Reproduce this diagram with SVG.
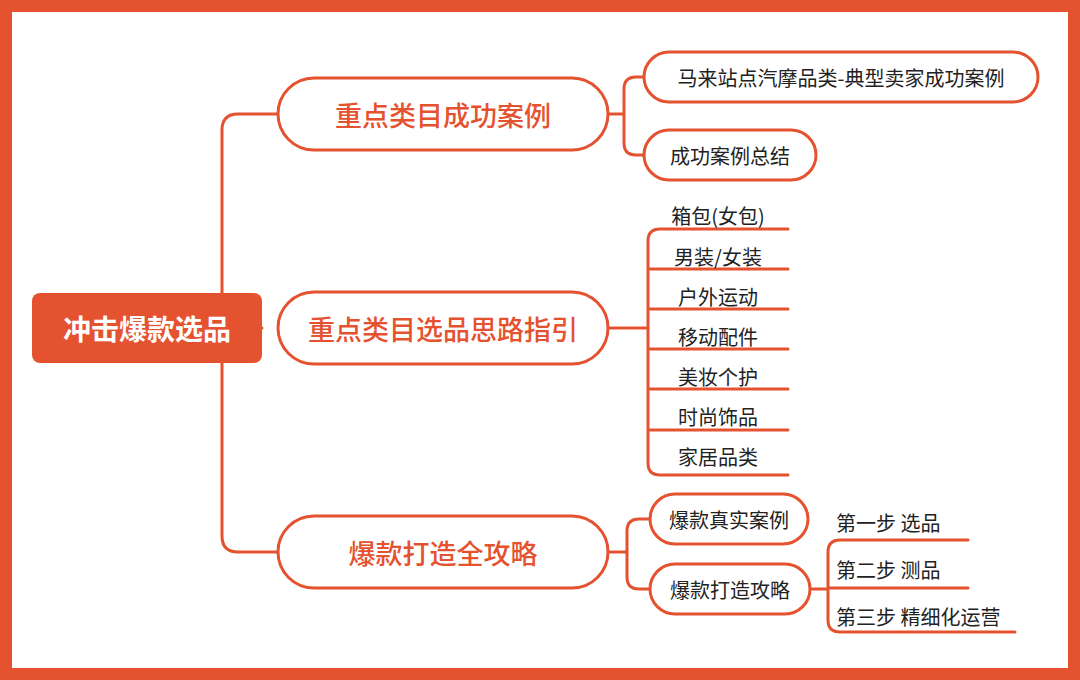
<svg xmlns="http://www.w3.org/2000/svg" width="1080" height="680" viewBox="0 0 1080 680">
<style>
.l{fill:none;stroke:#E4522F;stroke-width:3;stroke-linecap:round}
.p{fill:#fff;stroke:#E4522F;stroke-width:3}
.t1{font-family:"Noto Sans CJK SC","Noto Sans",sans-serif;font-size:27px;font-weight:500;fill:#E4522F;text-anchor:middle;dominant-baseline:central}
.t2{font-family:"Noto Sans CJK SC","Noto Sans",sans-serif;font-size:20px;fill:#222;dominant-baseline:central}
.c{text-anchor:middle}
</style>
<rect x="6" y="6" width="1068" height="668" fill="#fff" stroke="#E4522F" stroke-width="12"/>
<g id="connectors">
<path class="l" d="M262 328H222M278 114H238Q222 114 222 130V536Q222 552 238 552H278"/>
<path class="l" d="M608 114H624M644 77H636Q624 77 624 89V143Q624 155 636 155H644"/>
<path class="l" d="M608 328H648"/>
<path class="l" d="M788 229H660Q648 229 648 241V463Q648 475 660 475H788M648 269H788M648 309H788M648 349H788M648 389H788M648 430H788"/>
<path class="l" d="M608 552H627M650 519H639Q627 519 627 531V577Q627 589 639 589H650"/>
<path class="l" d="M810 589H828M968 540H840Q828 540 828 552V620Q828 632 840 632H1015M828 588H968"/>
</g>
<g id="root"><rect x="32" y="293" width="230" height="70" rx="8" fill="#E4522F"/><text x="147" y="328" class="t1" style="fill:#fff;font-weight:700;font-size:28px">冲击爆款选品</text></g>
<g id="n1"><rect class="p" x="278" y="78" width="330" height="72" rx="36"/><text class="t1" x="443" y="114">重点类目成功案例</text></g>
<g id="n2"><rect class="p" x="278" y="292" width="330" height="72" rx="36"/><text class="t1" x="443" y="328">重点类目选品思路指引</text></g>
<g id="n3"><rect class="p" x="278" y="516" width="330" height="72" rx="36"/><text class="t1" x="443" y="552">爆款打造全攻略</text></g>
<g id="n1a"><rect class="p" x="644" y="52" width="394" height="50" rx="25"/><text class="t2 c" x="841" y="77">马来站点汽摩品类-典型卖家成功案例</text></g>
<g id="n1b"><rect class="p" x="644" y="130" width="172" height="50" rx="25"/><text class="t2 c" x="730" y="155">成功案例总结</text></g>
<g id="n2a"><text class="t2 c" x="718" y="215">箱包(女包)</text></g>
<g id="n2b"><text class="t2 c" x="718" y="256">男装/女装</text></g>
<g id="n2c"><text class="t2 c" x="718" y="296">户外运动</text></g>
<g id="n2d"><text class="t2 c" x="718" y="336">移动配件</text></g>
<g id="n2e"><text class="t2 c" x="718" y="376">美妆个护</text></g>
<g id="n2f"><text class="t2 c" x="718" y="416">时尚饰品</text></g>
<g id="n2g"><text class="t2 c" x="718" y="456">家居品类</text></g>
<g id="n3a"><rect class="p" x="650" y="494" width="158" height="50" rx="25"/><text class="t2 c" x="729" y="519">爆款真实案例</text></g>
<g id="n3b"><rect class="p" x="650" y="564" width="160" height="50" rx="25"/><text class="t2 c" x="730" y="589">爆款打造攻略</text></g>
<g id="s1"><text class="t2" x="836" y="522">第一步 选品</text></g>
<g id="s2"><text class="t2" x="836" y="569">第二步 测品</text></g>
<g id="s3"><text class="t2" x="836" y="616">第三步 精细化运营</text></g>
</svg>
